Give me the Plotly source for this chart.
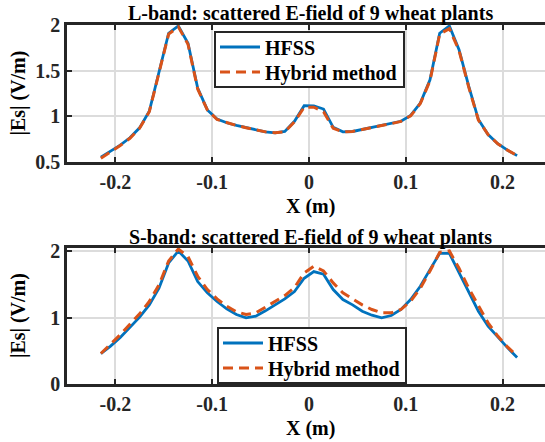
import plotly.graph_objects as go

# Sample positions (m)
x_pos = [round(-0.215 + 0.01 * i, 3) for i in range(44)]

# L-band |Es| (V/m)
l_hfss = [0.554, 0.62, 0.685, 0.765, 0.874, 1.056, 1.47, 1.91, 1.99, 1.80, 1.31, 1.07,
          0.97, 0.93, 0.90, 0.875, 0.856, 0.83, 0.82, 0.834, 0.946, 1.117, 1.115, 1.08,
          0.88, 0.83, 0.834, 0.856, 0.878, 0.90, 0.92, 0.946, 1.01, 1.146, 1.40, 1.91,
          1.99, 1.73, 1.33, 0.965, 0.80, 0.70, 0.63, 0.57]
l_hybrid = [0.54, 0.61, 0.68, 0.76, 0.87, 1.05, 1.46, 1.90, 1.98, 1.79, 1.30, 1.07,
            0.965, 0.93, 0.90, 0.875, 0.855, 0.83, 0.82, 0.83, 0.94, 1.10, 1.10, 1.05,
            0.87, 0.83, 0.835, 0.855, 0.878, 0.90, 0.92, 0.945, 1.005, 1.14, 1.39, 1.90,
            1.96, 1.72, 1.32, 0.96, 0.80, 0.70, 0.63, 0.57]

# S-band |Es| (V/m)
s_hfss = [0.458, 0.57, 0.70, 0.846, 1.005, 1.19, 1.44, 1.82, 2.0, 1.85, 1.54, 1.37,
          1.24, 1.13, 1.045, 0.995, 1.02, 1.10, 1.19, 1.28, 1.39, 1.59, 1.69, 1.65,
          1.42, 1.27, 1.19, 1.095, 1.035, 0.995, 1.03, 1.12, 1.27, 1.47, 1.72, 1.965,
          1.965, 1.67, 1.37, 1.095, 0.87, 0.70, 0.547, 0.40]
s_hybrid = [0.458, 0.60, 0.74, 0.90, 1.055, 1.24, 1.49, 1.85, 2.03, 1.915, 1.62, 1.42,
            1.28, 1.17, 1.085, 1.045, 1.07, 1.155, 1.245, 1.33, 1.45, 1.67, 1.77, 1.70,
            1.52, 1.37, 1.28, 1.19, 1.12, 1.07, 1.07, 1.12, 1.245, 1.44, 1.70, 1.98,
            2.0, 1.74, 1.44, 1.17, 0.92, 0.72, 0.557, 0.42]

x_ticks = [-0.2, -0.1, 0, 0.1, 0.2]
x_tick_text = ["-0.2", "-0.1", "0", "0.1", "0.2"]
l_y_ticks = [0.5, 1, 1.5, 2]
l_y_tick_text = ["0.5", "1", "1.5", "2"]
s_y_ticks = [0, 1, 2]
s_y_tick_text = ["0", "1", "2"]

titles = ["L-band: scattered E-field of 9 wheat plants",
          "S-band: scattered E-field of 9 wheat plants"]
series_names = ["HFSS", "Hybrid method"]

W, H = 545, 442
FONT = "Liberation Serif, Times New Roman, serif"
FS = 20
AX = "#262626"
GRID = "#dcdcdc"
BLUE = "#0072BD"
ORANGE = "#D95319"
DASH = "10px,6px"

L_LEFT = 67
PW = W - L_LEFT
top_px = (25, 162)
bot_px = (248, 384)


def py(p):
    return 1 - p / H


def px(p):
    return (p - L_LEFT) / PW


fig = go.Figure()
specs = [
    (l_hfss, BLUE, 2.8, "solid", "x", "y", "legend", series_names[0]),
    (l_hybrid, ORANGE, 3, DASH, "x", "y", "legend2", series_names[1]),
    (s_hfss, BLUE, 2.8, "solid", "x2", "y2", "legend3", series_names[0]),
    (s_hybrid, ORANGE, 3, DASH, "x2", "y2", "legend4", series_names[1]),
]
for ys, col, wd, dash, xa, ya, lg, nm in specs:
    fig.add_trace(go.Scatter(x=x_pos, y=ys, mode="lines", name=nm,
                             line=dict(color=col, width=wd, dash=dash),
                             xaxis=xa, yaxis=ya, legend=lg))

xr = [-0.25, -0.25 + PW / 968.0]
tickfont = dict(family=FONT, size=FS, color=AX, weight="bold")

common_x = dict(range=xr, tickvals=x_ticks, ticktext=x_tick_text, showgrid=True, gridcolor=GRID,
                gridwidth=2, showline=True, linecolor=AX, linewidth=2.6, mirror="ticks",
                ticks="inside", ticklen=5, tickwidth=2.4, tickcolor=AX, tickfont=tickfont,
                zeroline=False, fixedrange=True, automargin=False)
common_y = dict(showgrid=True, gridcolor=GRID, gridwidth=2, showline=True, linecolor=AX,
                linewidth=2.6, mirror=False, ticks="inside", ticklen=5, tickwidth=2.4,
                tickcolor=AX, tickfont=tickfont, zeroline=False, fixedrange=True, automargin=False)

legend_common = dict(font=dict(family=FONT, size=FS, color="black", weight="bold"),
                     bgcolor="rgba(0,0,0,0)", borderwidth=0, itemwidth=40,
                     xanchor="left", yanchor="middle", tracegroupgap=0,
                     xref="paper", yref="paper")

# legend frames (decoration only)
boxes = [(215, 404, 32, 87), (218, 406, 328, 383)]
shapes = [dict(type="rect", xref="paper", yref="paper", x0=px(a), x1=px(b), y0=py(d), y1=py(c),
               line=dict(color=AX, width=2), fillcolor="white", layer="above") for a, b, c, d in boxes]

ann_font = dict(family=FONT, size=FS, color="black", weight="bold")
annotations = []
for t, yc in zip(titles, [13, 237]):
    annotations.append(dict(text=t, x=px(310), y=py(yc), xref="paper", yref="paper",
                            xanchor="center", yanchor="middle", showarrow=False, font=ann_font))
for yc in [206, 428]:
    annotations.append(dict(text="X (m)", x=px(310), y=py(yc), xref="paper", yref="paper",
                            xanchor="center", yanchor="middle", showarrow=False, font=ann_font))
for (a, b) in [top_px, bot_px]:
    annotations.append(dict(text="|Es| (V/m)", x=px(18), y=py((a + b) / 2), xref="paper",
                            yref="paper", xanchor="center", yanchor="middle", textangle=-90,
                            showarrow=False, font=ann_font))

fig.update_layout(
    width=W, height=H, margin=dict(l=L_LEFT, r=0, t=0, b=0, autoexpand=False),
    paper_bgcolor="white", plot_bgcolor="white",
    xaxis=dict(domain=[0, 1], anchor="y", **common_x),
    yaxis=dict(domain=[py(top_px[1]), py(top_px[0])], anchor="x", range=[0.5, 2],
               tickvals=l_y_ticks, ticktext=l_y_tick_text, **common_y),
    xaxis2=dict(domain=[0, 1], anchor="y2", **common_x),
    yaxis2=dict(domain=[py(bot_px[1]), py(bot_px[0])], anchor="x2", range=[0, 2.045],
                tickvals=s_y_ticks, ticktext=s_y_tick_text, **common_y),
    legend=dict(x=px(215), y=py(47), **legend_common),
    legend2=dict(x=px(215), y=py(72), **legend_common),
    legend3=dict(x=px(218), y=py(343), **legend_common),
    legend4=dict(x=px(218), y=py(368), **legend_common),
    showlegend=True,
    shapes=shapes,
    annotations=annotations,
)

fig.write_html("out.html")
